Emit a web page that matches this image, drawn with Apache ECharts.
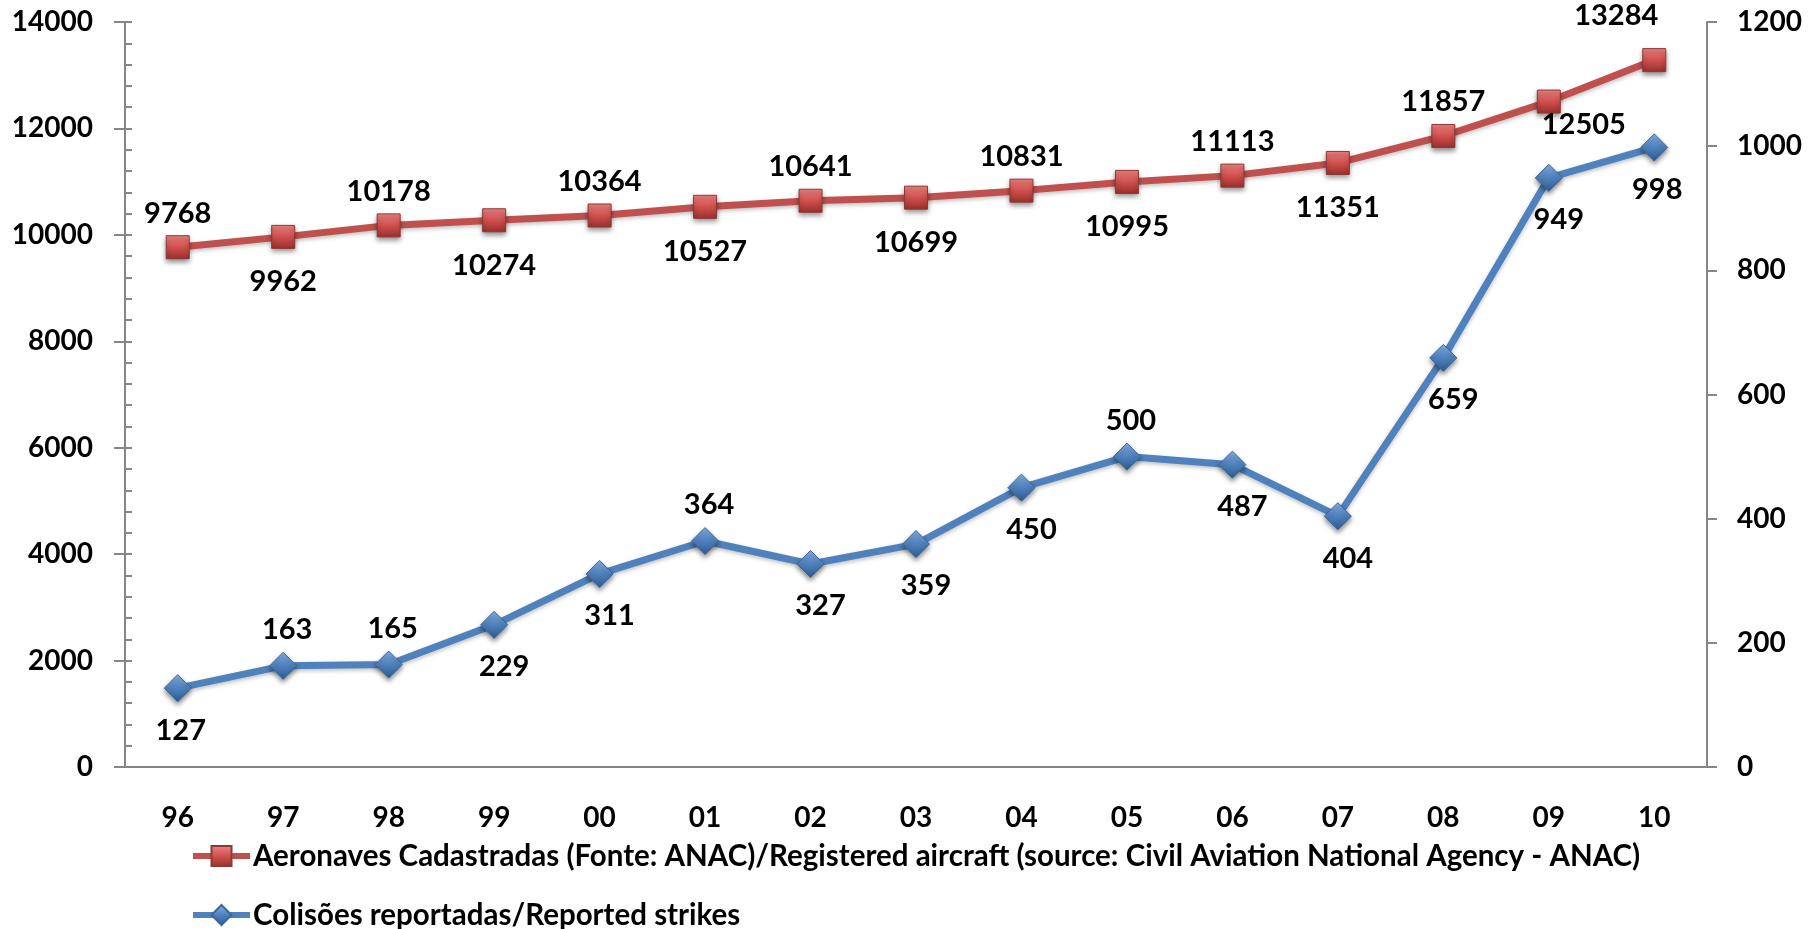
<!DOCTYPE html>
<html>
<head>
<meta charset="utf-8">
<script src="https://cdn.jsdelivr.net/npm/echarts@6/dist/echarts.min.js"></script>
<style>
html,body{margin:0;padding:0;background:#fff;}
#chart{width:1816px;height:929px;}
</style>
</head>
<body>
<div id="chart"></div>
<script>
const years = ['96','97','98','99','00','01','02','03','04','05','06','07','08','09','10'];
const aircraft = [9768, 9962, 10178, 10274, 10364, 10527, 10641, 10699, 10831, 10995, 11113, 11351, 11857, 12505, 13284];
const strikes = [127, 163, 165, 229, 311, 364, 327, 359, 450, 500, 487, 404, 659, 949, 998];
const aircraftName = 'Aeronaves Cadastradas (Fonte: ANAC)/Registered aircraft (source: Civil Aviation National Agency - ANAC)';
const strikesName = 'Colisões reportadas/Reported strikes';
const aircraftLabelPos = ['top','bottom','top','bottom','top','bottom','top','bottom','top','bottom','top','bottom','top','bottom','top'];
const strikesLabelPos = ['bottom','top','top','bottom','bottom','top','bottom','bottom','bottom','top','bottom','bottom','bottom','bottom','bottom'];

const FONT = 'Lato';
const labelFont = {fontFamily: FONT, fontWeight: 'bold', fontSize: 29, color: '#000', lineHeight: 32};
const axisFont = {fontFamily: FONT, fontWeight: 'bold', fontSize: 28, color: '#000'};

const redFill = new echarts.graphic.LinearGradient(0,0,0,1,[
  {offset:0,color:'#F28583'},{offset:0.5,color:'#D0504D'},{offset:1,color:'#9A2F2C'}]);
const blueFill = new echarts.graphic.LinearGradient(0,0,0,1,[
  {offset:0,color:'#86B2E6'},{offset:0.5,color:'#4F81BD'},{offset:1,color:'#2C5A92'}]);

const aircraftData = aircraft.map((v,i)=>{
  const pos = aircraftLabelPos[i];
  const lab = {position: pos, distance: pos==='top'?6:17};
  if (i===13) lab.offset = [35,-22];
  if (i===14) lab.offset = [-38,-10];
  return {value:v, label:lab};
});
const strikesData = strikes.map((v,i)=>{
  const pos = strikesLabelPos[i];
  const lab = {position: pos, distance: pos==='top'?6:12, offset: pos==='top'?[4,0]:[10,0]};
  if (i===0) lab.offset = [3,0];
  if (i===14) lab.offset = [3,0];
  return {value:v, label:lab};
});

const plain = v => String(v);

const chart = echarts.init(document.getElementById('chart'));
chart.setOption({
  backgroundColor:'#fff',
  animation:false,
  grid:{left:125, right:109, top:22, bottom:162, containLabel:false},
  legend:{
    orient:'vertical', left:185, top:836, height:130, padding:5,
    itemWidth:57, itemHeight:25, itemGap:29,
    lineStyle:{width:6},
    textStyle:{fontFamily:FONT, fontWeight:'bold', fontSize:29.5, color:'#000', padding:[0,0,0,-2]},
    data:[aircraftName, strikesName]
  },
  xAxis:{
    type:'category', data:years, boundaryGap:true,
    axisLine:{lineStyle:{color:'#868686', width:2}},
    axisTick:{show:false},
    axisLabel:Object.assign({margin:37}, axisFont)
  },
  yAxis:[
    {
      type:'value', position:'left', min:0, max:14000, interval:2000,
      axisLine:{show:true, lineStyle:{color:'#868686', width:2}},
      axisTick:{show:true, length:11, lineStyle:{color:'#868686', width:2}},
      splitLine:{show:false},
      axisLabel:Object.assign({margin:32, formatter:plain}, axisFont)
    },
    {
      type:'value', position:'right', min:0, max:1200, interval:200,
      axisLine:{show:true, lineStyle:{color:'#868686', width:2}},
      axisTick:{show:true, length:10, lineStyle:{color:'#868686', width:2}},
      splitLine:{show:false},
      axisLabel:Object.assign({margin:30, formatter:plain}, axisFont)
    },
    {
      type:'value', position:'left', min:0, max:14000, interval:400,
      axisLine:{show:false},
      axisTick:{show:true, inside:true, length:7, lineStyle:{color:'#868686', width:2}},
      splitLine:{show:false},
      axisLabel:{show:false}
    }
  ],
  series:[
    {
      name:aircraftName, type:'line', yAxisIndex:0, data:aircraftData,
      symbol:'rect', symbolSize:23, z:3,
      lineStyle:{color:'#C0504D', width:7, shadowColor:'rgba(0,0,0,0.25)', shadowBlur:4, shadowOffsetY:2},
      itemStyle:{color:redFill, borderColor:'#8C3836', borderWidth:1, shadowColor:'rgba(0,0,0,0.45)', shadowBlur:5, shadowOffsetY:3},
      label:Object.assign({show:true}, labelFont)
    },
    {
      name:strikesName, type:'line', yAxisIndex:1, data:strikesData,
      symbol:'diamond', symbolSize:27, z:3,
      lineStyle:{color:'#4F81BD', width:7, shadowColor:'rgba(0,0,0,0.25)', shadowBlur:4, shadowOffsetY:2},
      itemStyle:{color:blueFill, borderColor:'#3A6699', borderWidth:1, shadowColor:'rgba(0,0,0,0.45)', shadowBlur:5, shadowOffsetY:3},
      label:Object.assign({show:true}, labelFont)
    }
  ]
});
</script>
</body>
</html>
